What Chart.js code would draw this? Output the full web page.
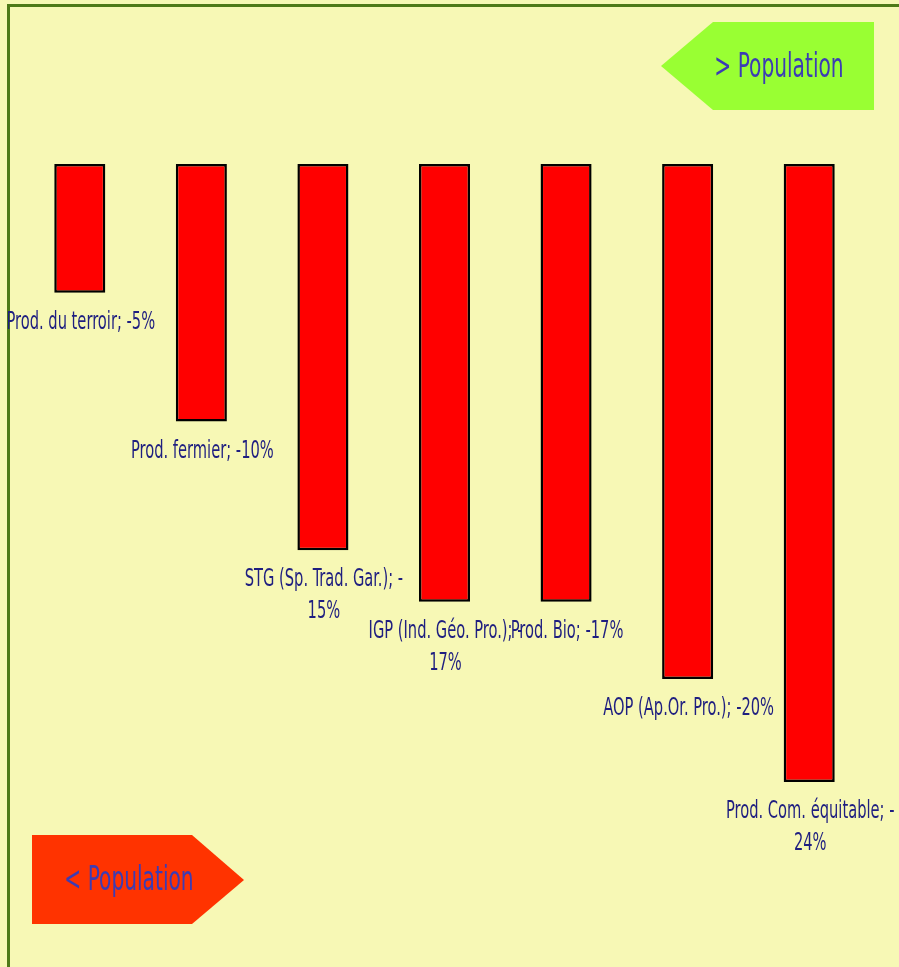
<!DOCTYPE html>
<html>
<head>
<meta charset="utf-8">
<script src="https://cdn.jsdelivr.net/npm/chart.js@4"></script>
<style>
  html, body { margin: 0; padding: 0; background: #f7f8b5; }
  #wrap { width: 899px; height: 967px; }
</style>
</head>
<body>
<div id="wrap"><canvas id="chart_labels_pop" width="899" height="967"></canvas></div>
<script>
// categories and change in % (negative = lower population)
const categories = ['Prod. du terroir', 'Prod. fermier', 'STG (Sp. Trad. Gar.)', 'IGP (Ind. Géo. Pro.)',
    'Prod. Bio', 'AOP (Ap.Or. Pro.)', 'Prod. Com. équitable'];
const values = [-5, -10, -15, -17, -17, -20, -24];
// labels that break after the minus sign
const wrapLabel = [false, false, true, true, false, false, true];
const yMin = -24;
const yMax = 0;

const LABEL_FONT = '"DejaVu Sans Condensed", "Liberation Sans Narrow", "Roboto", sans-serif';

function drawText(ctx, text, x, y, size, squeeze, color) {
    ctx.save();
    ctx.font = size + 'px ' + LABEL_FONT;
    ctx.fillStyle = color;
    ctx.textAlign = 'center';
    ctx.textBaseline = 'middle';
    ctx.translate(x, y);
    ctx.scale(squeeze, 1);
    ctx.fillText(text, 0, 0);
    ctx.restore();
}

const backdrop = {
    id: 'backdrop',
    beforeDraw(chart) {
        const ctx = chart.ctx;
        ctx.save();
        ctx.fillStyle = '#f7f8b5';
        ctx.fillRect(0, 0, chart.width, chart.height);
        ctx.strokeStyle = '#4e7a18';
        ctx.lineWidth = 3;
        ctx.strokeRect(8.5, 5.5, chart.width + 20, chart.height + 20);
        ctx.restore();
    }
};

// "> Population" / "< Population" tags and the value labels under each bar
const decorations = {
    id: 'decorations',
    afterDatasetsDraw(chart) {
        const ctx = chart.ctx;
        ctx.save();
        ctx.fillStyle = '#99ff33';
        ctx.beginPath();
        ctx.moveTo(661, 66);
        ctx.lineTo(713, 22);
        ctx.lineTo(874, 22);
        ctx.lineTo(874, 110);
        ctx.lineTo(713, 110);
        ctx.closePath();
        ctx.fill();

        ctx.fillStyle = '#ff3300';
        ctx.beginPath();
        ctx.moveTo(32, 835);
        ctx.lineTo(192, 835);
        ctx.lineTo(244, 880);
        ctx.lineTo(192, 924);
        ctx.lineTo(32, 924);
        ctx.closePath();
        ctx.fill();
        ctx.restore();

        drawText(ctx, '> Population', 779, 68, 34, 0.66, '#3c3cb4');
        drawText(ctx, '< Population', 129, 881, 34, 0.66, '#3c3cb4');

        const meta = chart.getDatasetMeta(0);
        meta.data.forEach((bar, i) => {
            const txt = categories[i] + '; ' + values[i] + '%';
            const x = bar.x + 1;
            const y0 = bar.y + 30;
            if (wrapLabel[i]) {
                const cut = txt.lastIndexOf('-') + 1;
                drawText(ctx, txt.slice(0, cut), x, y0, 24, 0.68, '#1f1f80');
                drawText(ctx, txt.slice(cut), x, y0 + 32, 24, 0.68, '#1f1f80');
            } else {
                drawText(ctx, txt, x, y0, 24, 0.68, '#1f1f80');
            }
        });
    }
};

new Chart(document.getElementById('chart_labels_pop'), {
    type: 'bar',
    data: {
        labels: categories,
        datasets: [{
            data: values,
            backgroundColor: '#ff0000',
            borderColor: '#000000',
            borderWidth: 2.5,
            borderSkipped: false,
            barPercentage: 0.42,
            categoryPercentage: 1
        }]
    },
    options: {
        responsive: false,
        animation: false,
        layout: { padding: { top: 164, bottom: 185, left: 19, right: 29 } },
        plugins: { legend: { display: false }, tooltip: { enabled: false } },
        scales: {
            x: { display: false },
            y: { display: false, min: yMin, max: yMax }
        }
    },
    plugins: [backdrop, decorations]
});
</script>
</body>
</html>
